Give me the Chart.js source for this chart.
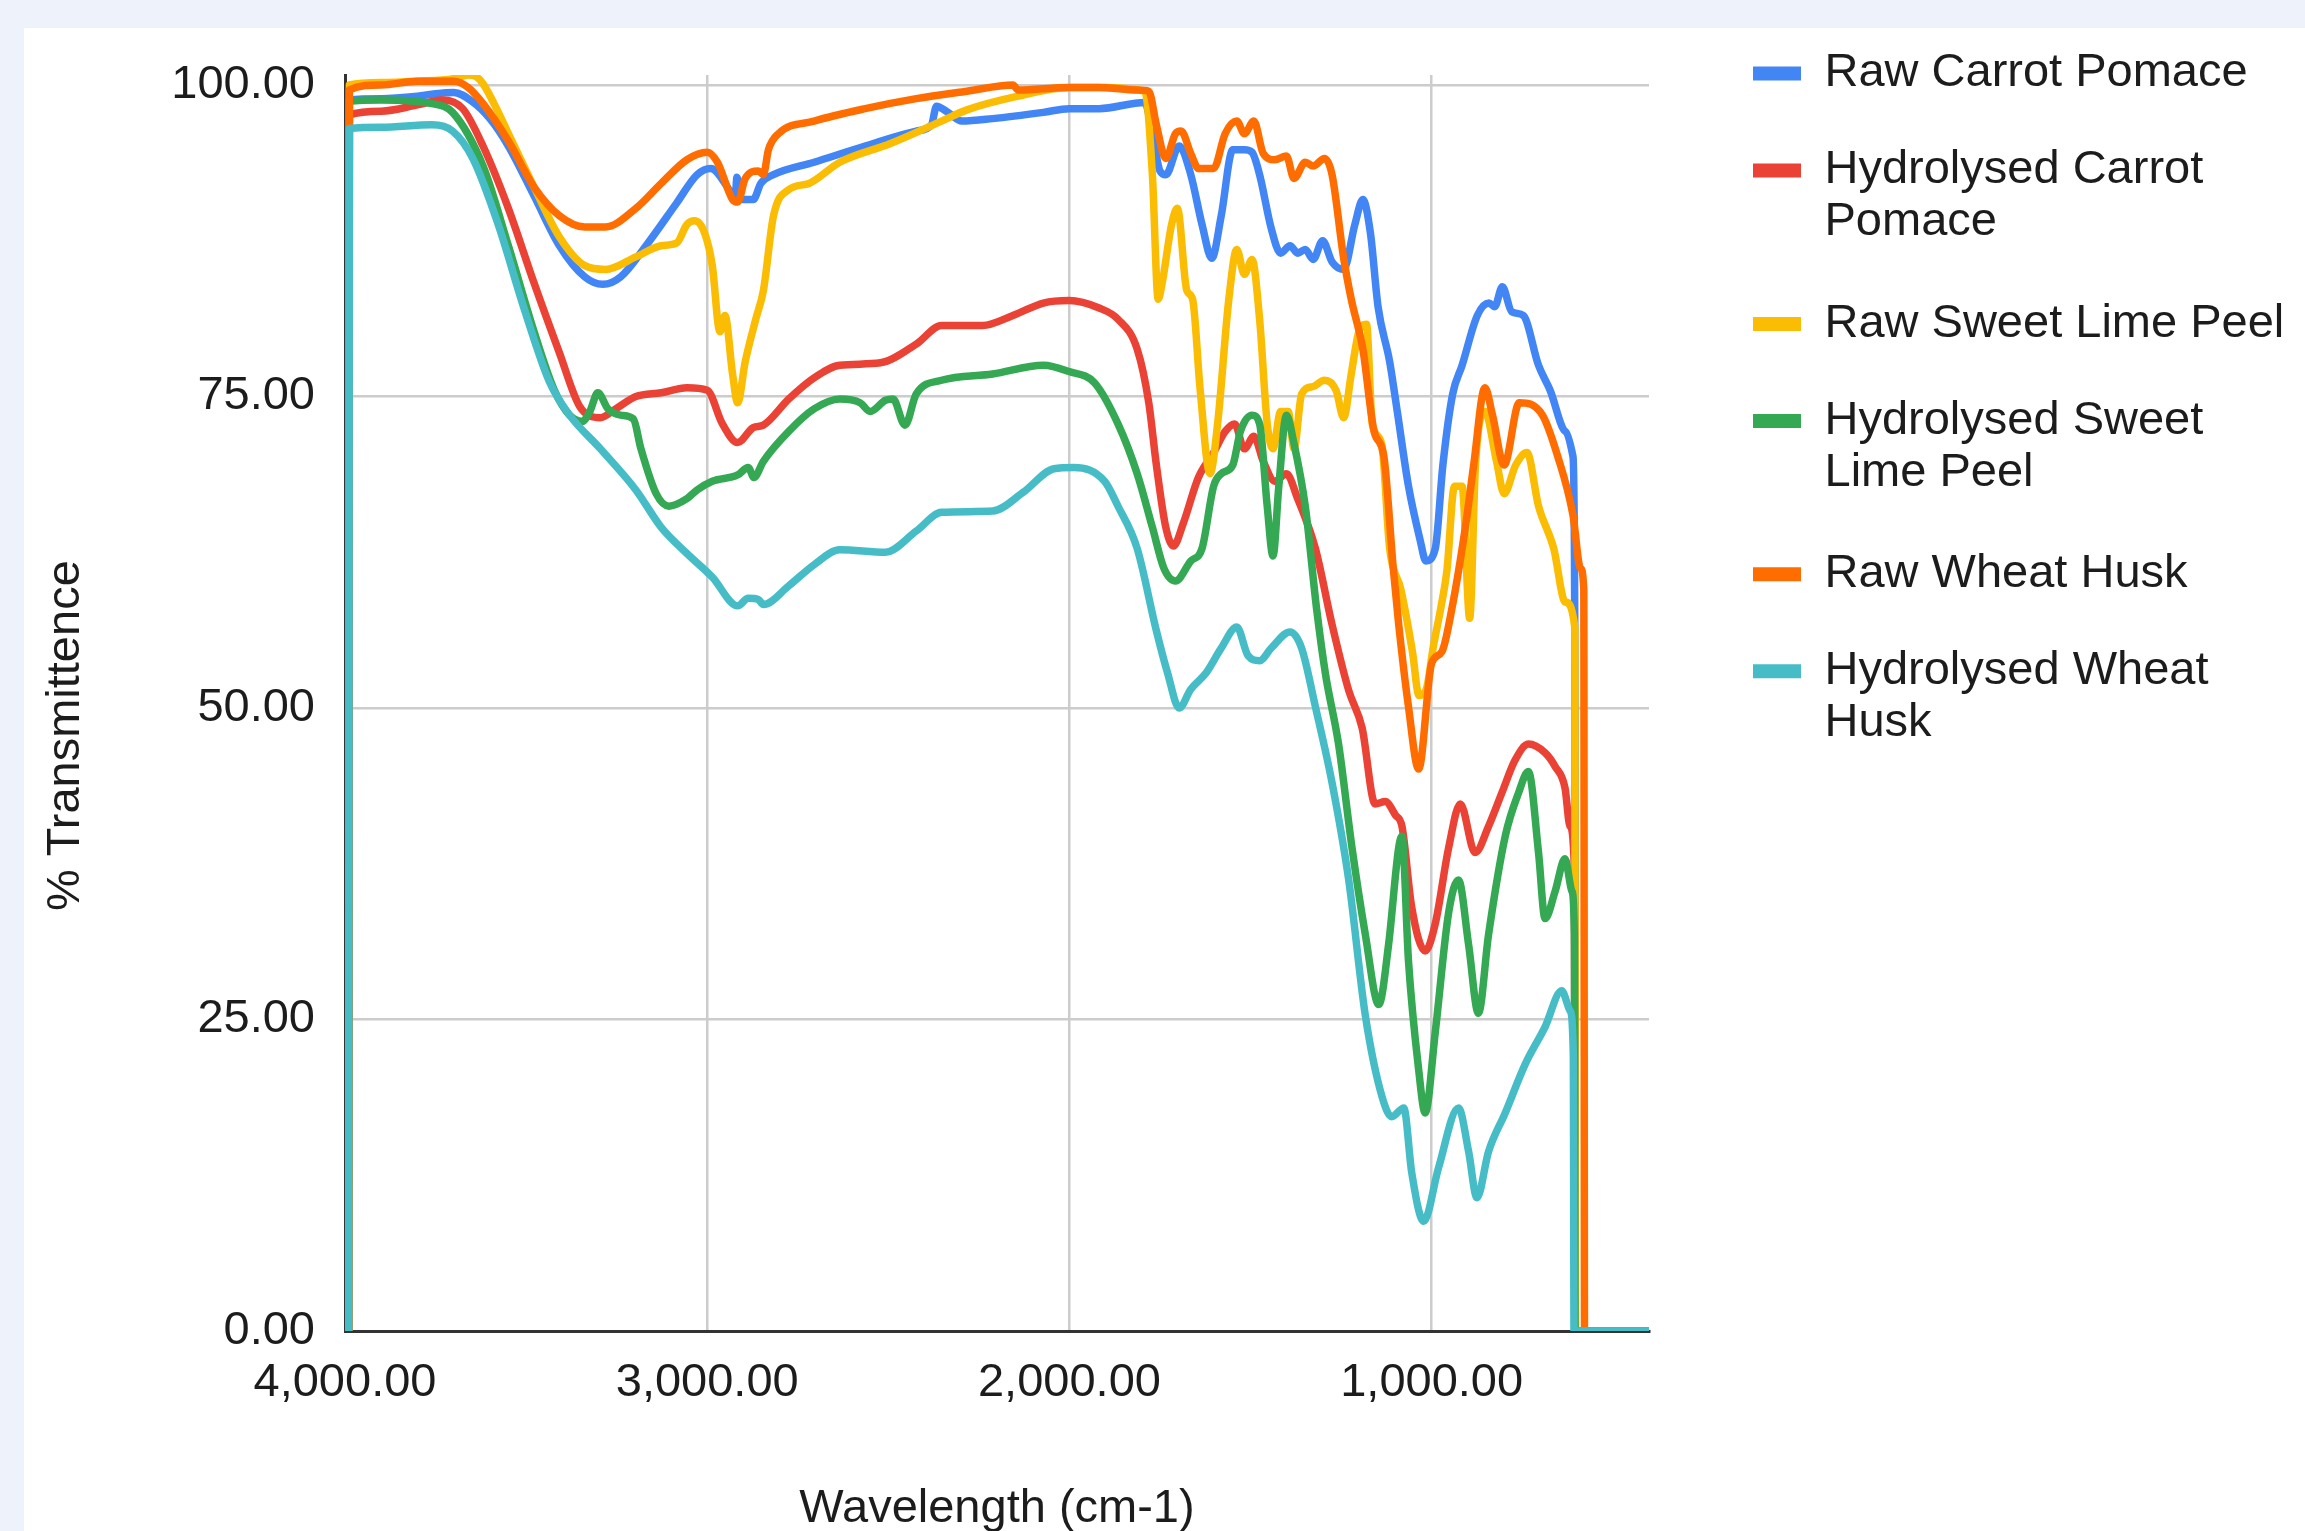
<!DOCTYPE html>
<html>
<head>
<meta charset="utf-8">
<script src="https://cdn.jsdelivr.net/npm/chart.js@4.4.1/dist/chart.umd.min.js"></script>
<style>
  html, body { margin: 0; padding: 0; width: 2305px; height: 1531px; overflow: hidden; background: #eef3fb; }
  #card { position: absolute; left: 24px; top: 28px; right: 0; bottom: 0; background: #ffffff; }
  #wrap { position: absolute; left: 0; top: 0; width: 2305px; height: 1531px; overflow: hidden; }
  #wrap canvas { position: absolute; left: 0; top: 0; }
</style>
</head>
<body>
<div id="card"></div>
<div id="wrap"><canvas id="chart" width="2305" height="1560"></canvas></div>
<script>
// ---------------- DATA ----------------
const SERIES_NAMES = [
  'Raw Carrot Pomace',
  'Hydrolysed Carrot Pomace',
  'Raw Sweet Lime Peel',
  'Hydrolysed Sweet Lime Peel',
  'Raw Wheat Husk',
  'Hydrolysed Wheat Husk'
];
const LEGEND_LINES = [
  'Raw Carrot Pomace',
  ['Hydrolysed Carrot', 'Pomace'],
  'Raw Sweet Lime Peel',
  ['Hydrolysed Sweet', 'Lime Peel'],
  'Raw Wheat Husk',
  ['Hydrolysed Wheat', 'Husk']
];
const SERIES_COLORS = ['#4285F4', '#EA4335', '#FBBC04', '#34A853', '#FF6D01', '#46BDC6'];

const X_TICKS = [4000, 3000, 2000, 1000];
const Y_TICKS = [0, 25, 50, 75, 100];
const X_MIN = 400, X_MAX = 4000;
const Y_MIN = 0, Y_MAX = 100.8;

const RAW_CARROT_WN = [3990,3988,3900,3800,3750,3700,3650,3600,3549,3478,3408,3338,3288,3239,3169,3085,3028,2990,2944,2923,2918,2905,2873,2852,2817,2705,2564,2423,2381,2367,2340,2297,2212,2072,2001,1918,1792,1771,1750,1734,1697,1665,1634,1607,1581,1549,1517,1496,1475,1443,1417,1391,1370,1349,1327,1301,1275,1243,1212,1190,1169,1148,1116,1095,1064,1032,1016,990,969,942,916,874,842,826,805,779,747,705,673,631,610,605,603,400];
const RAW_CARROT_T  = [0,98.8,98.9,99.1,99.3,99.4,98.7,97.3,95.1,91.1,87.1,84.6,84.0,84.6,87.1,90.5,92.8,93.3,91.8,90.8,92.6,90.8,90.8,92.1,92.8,93.8,95.1,96.3,96.8,98.3,97.9,97.1,97.3,97.8,98.1,98.1,98.6,96.1,93.1,92.8,95.1,92.8,88.8,86.1,89.5,94.8,94.8,94.6,92.8,88.5,86.5,87.1,86.5,86.8,86.0,87.5,85.8,85.2,88.8,90.8,88.1,82.2,77.8,73.8,67.8,63.5,61.8,62.8,69.5,75.2,77.5,81.5,82.5,82.2,83.8,81.8,81.5,77.5,75.5,72.2,70.2,56.8,0,0];

const HYD_CARROT_WN = [3990,3988,3900,3800,3732,3675,3619,3549,3478,3408,3352,3295,3253,3197,3127,3056,3000,2958,2916,2873,2845,2775,2705,2634,2522,2423,2353,2240,2156,2072,2001,1918,1866,1813,1781,1760,1734,1713,1686,1644,1602,1570,1544,1517,1491,1465,1433,1401,1370,1321,1275,1229,1192,1156,1128,1100,1082,1055,1018,990,953,921,880,843,806,770,733,687,659,632,618,606,604,400];
const HYD_CARROT_T  = [0,97.6,97.9,98.4,98.8,98.1,95.1,90.1,84.1,78.5,74.2,73.3,74.0,75.0,75.3,75.7,75.5,72.8,71.3,72.5,72.7,74.8,76.5,77.5,77.7,79.2,80.7,80.7,81.5,82.5,82.7,82.1,81.2,78.8,74.5,69.5,64.5,63.0,64.8,68.5,70.5,72.2,72.8,70.8,71.8,69.8,68.2,68.8,66.8,62.8,56.7,51.4,48.4,42.3,42.5,41.4,40.5,34.0,30.5,32.7,38.8,42.3,38.4,40.5,43.2,45.8,47.1,46.4,45.3,43.6,40.5,37.1,0,0];

const RAW_LIME_WN = [3990,3988,3900,3800,3700,3660,3640,3619,3580,3549,3478,3408,3338,3281,3197,3127,3085,3056,3035,3007,2986,2965,2951,2930,2916,2895,2866,2845,2817,2775,2719,2634,2494,2353,2283,2142,2001,1918,1792,1771,1755,1744,1718,1702,1676,1660,1639,1612,1591,1560,1538,1517,1496,1475,1454,1438,1417,1396,1380,1359,1327,1296,1264,1243,1222,1201,1180,1164,1138,1116,1085,1053,1035,1015,995,975,958,937,916,895,879,853,821,800,768,737,705,663,631,605,603,400];
const RAW_LIME_T  = [0,100.0,100.2,100.3,100.5,100.8,100.7,100.1,98.0,96.1,91.8,87.8,85.5,85.2,86.2,87.1,87.3,88.8,89.1,88.1,85.5,80.2,81.5,76.8,74.5,77.8,81.2,83.5,89.5,91.6,92.1,93.8,95.3,97.1,98.0,99.1,99.8,99.8,99.5,92.8,82.8,84.1,88.8,90.1,83.5,82.8,75.5,68.8,72.8,82.8,86.8,84.8,86.0,81.2,72.8,70.8,73.8,73.8,70.8,75.2,75.8,76.3,75.5,73.3,76.8,80.2,80.8,72.8,71.2,62.8,59.5,54.5,51.0,51.5,55.0,58.0,61.0,67.8,67.8,57.2,69.5,73.8,69.8,67.2,69.5,70.5,66.2,62.8,58.5,56.5,0,0];

const HYD_LIME_WN = [3990,3988,3900,3760,3703,3619,3549,3478,3422,3380,3345,3324,3302,3274,3239,3204,3183,3141,3106,3056,3028,2986,2916,2887,2871,2845,2775,2705,2634,2578,2550,2508,2487,2454,2423,2353,2212,2072,2001,1931,1866,1813,1771,1739,1707,1665,1634,1602,1581,1549,1528,1496,1475,1454,1438,1422,1401,1380,1349,1317,1293,1257,1220,1183,1146,1119,1091,1082,1064,1036,1018,990,953,926,898,871,843,797,760,733,705,687,659,632,613,606,604,400];
const HYD_LIME_T  = [0,98.7,98.8,98.5,97.8,93.5,87.1,80.2,75.5,73.5,73.0,73.8,75.3,74.0,73.5,73.2,70.8,67.2,66.2,66.8,67.5,68.2,68.7,69.3,68.5,69.8,72.2,74.0,74.8,74.5,73.8,74.7,74.8,72.7,75.2,76.3,76.8,77.5,77.0,76.1,72.8,68.8,64.5,61.2,60.2,61.8,62.8,67.8,68.8,69.5,72.2,73.5,72.8,66.2,62.2,67.8,73.5,71.2,66.2,57.8,52.7,47.1,38.8,31.8,26.2,31.0,38.8,39.7,29.7,21.0,17.5,24.0,33.6,36.2,31.0,25.5,31.8,39.7,43.2,44.9,38.4,33.1,35.3,37.9,35.3,31.8,0,0];

const RAW_WHEAT_WN = [3990,3988,3900,3800,3700,3660,3619,3549,3478,3408,3338,3281,3197,3127,3056,3000,2972,2930,2916,2895,2859,2845,2831,2803,2705,2564,2423,2283,2156,2142,2001,1918,1813,1781,1760,1734,1707,1692,1665,1644,1602,1570,1538,1517,1491,1465,1433,1401,1380,1349,1327,1296,1275,1243,1222,1190,1159,1132,1106,1091,1064,1036,1000,972,944,907,884,853,832,800,758,694,652,610,589,580,578,400];
const RAW_WHEAT_T  = [0,99.6,100.0,100.3,100.3,99.8,98.5,95.5,91.8,89.5,88.6,88.6,90.1,92.1,94.0,94.6,93.8,90.8,90.6,92.5,93.1,92.8,94.8,96.1,97.1,98.1,98.9,99.5,100.0,99.6,99.8,99.8,99.6,99.5,96.8,94.1,96.1,96.3,94.5,93.3,93.3,96.1,97.1,96.1,97.1,94.5,94.0,94.3,92.5,93.8,93.5,94.1,92.8,86.1,82.8,78.8,72.2,70.2,61.2,56.7,50.1,45.1,53.6,54.5,58.0,64.5,69.5,75.7,73.5,69.5,74.5,73.5,70.2,65.5,61.2,59.5,0,0];

const HYD_WHEAT_WN = [3990,3988,3900,3760,3703,3647,3577,3506,3436,3380,3295,3197,3127,3056,2986,2916,2887,2859,2845,2775,2705,2634,2508,2423,2353,2212,2128,2043,1987,1903,1866,1813,1760,1729,1697,1665,1623,1581,1538,1507,1475,1443,1391,1359,1321,1275,1229,1183,1137,1110,1077,1055,1022,981,926,898,875,843,797,742,687,641,618,609,607,400];
const HYD_WHEAT_T  = [0,96.5,96.6,96.8,96.3,94.1,88.8,82.1,76.2,73.5,70.8,67.5,64.5,62.4,60.5,58.2,58.8,58.7,58.3,59.8,61.5,62.7,62.5,64.2,65.7,65.8,67.3,69.2,69.3,68.2,66.2,62.8,56.2,52.8,50.0,51.5,52.8,54.8,56.5,54.2,53.8,54.8,56.1,54.8,50.1,44.0,36.2,25.3,18.8,17.2,17.9,12.7,8.8,13.1,17.9,14.4,10.7,14.4,17.5,21.4,24.4,27.3,25.7,22.3,0,0];

const SERIES_WN = [RAW_CARROT_WN, HYD_CARROT_WN, RAW_LIME_WN, HYD_LIME_WN, RAW_WHEAT_WN, HYD_WHEAT_WN];
const SERIES_T  = [RAW_CARROT_T,  HYD_CARROT_T,  RAW_LIME_T,  HYD_LIME_T,  RAW_WHEAT_T,  HYD_WHEAT_T];

// ---------------- LAYOUT / STYLE ----------------
const FONT_FAMILY = '"Liberation Sans", Arial, Helvetica, sans-serif';
const FONT_SIZE = 47;
const TEXT_COLOR = '#1c1c1c';
const Y_AXIS_WIDTH = 345;
const X_AXIS_HEIGHT = 229;
const LEGEND_WIDTH = 656;
const LEGEND_LEFT = 1703;

Chart.defaults.font.family = FONT_FAMILY;
Chart.defaults.font.size = FONT_SIZE;
Chart.defaults.color = TEXT_COLOR;

const fmt = v => Number(v).toLocaleString('en-US', {minimumFractionDigits: 2, maximumFractionDigits: 2});

const legendPlacement = {
  id: 'legendPlacement',
  beforeLayout(chart) {
    const lg = chart.legend;
    if (lg && !lg.__fixedFit) {
      const origFit = lg.fit;
      lg.fit = function () { origFit.call(this); this.width = LEGEND_WIDTH; };
      lg.__fixedFit = true;
    }
  },
  afterLayout(chart) {
    const lg = chart.legend;
    if (!lg) return;
    lg.left = LEGEND_LEFT;
    lg.right = chart.width;
    lg.width = lg.right - lg.left;
    lg.top = 0;
    lg.bottom = chart.height;
    lg.height = chart.height;
  }
};

const datasets = SERIES_NAMES.map((name, i) => ({
  label: name,
  data: SERIES_WN[i].map((w, k) => ({x: w, y: SERIES_T[i][k]})),
  borderColor: SERIES_COLORS[i],
  backgroundColor: SERIES_COLORS[i],
  borderWidth: 7.5,
  pointRadius: 0,
  pointHoverRadius: 0,
  fill: false,
  cubicInterpolationMode: 'monotone',
  borderJoinStyle: 'round',
  borderCapStyle: 'round',
  order: SERIES_NAMES.length - 1 - i
}));

new Chart(document.getElementById('chart'), {
  type: 'line',
  data: {datasets},
  plugins: [legendPlacement],
  options: {
    responsive: false,
    animation: false,
    devicePixelRatio: 1,
    events: [],
    layout: {padding: {top: 75, left: 0, right: 0, bottom: 0}},
    plugins: {
      tooltip: {enabled: false},
      legend: {
        position: 'right',
        align: 'start',
        labels: {
          font: {size: FONT_SIZE, lineHeight: 1.1},
          color: TEXT_COLOR,
          boxWidth: 48,
          boxHeight: 14,
          padding: 50,
          generateLabels(chart) {
            const items = Chart.defaults.plugins.legend.labels.generateLabels(chart);
            items.sort((a, b) => a.datasetIndex - b.datasetIndex);
            items.forEach(it => {
              it.text = LEGEND_LINES[it.datasetIndex];
              it.fillStyle = SERIES_COLORS[it.datasetIndex];
              it.strokeStyle = SERIES_COLORS[it.datasetIndex];
              it.lineWidth = 0;
            });
            return items;
          }
        }
      }
    },
    scales: {
      x: {
        type: 'linear',
        reverse: true,
        min: X_MIN,
        max: X_MAX,
        afterBuildTicks(scale) { scale.ticks = X_TICKS.map(v => ({value: v})); },
        afterFit(scale) { scale.height = X_AXIS_HEIGHT; scale.paddingLeft = 0; scale.paddingRight = 0; },
        grid: {color: '#cccccc', lineWidth: 2.5, drawTicks: false, z: -1},
        border: {color: '#333333', width: 3},
        ticks: {font: {size: FONT_SIZE}, color: TEXT_COLOR, padding: 24, autoSkip: false, maxRotation: 0, callback: v => fmt(v)},
        title: {display: true, text: 'Wavelength (cm-1)', font: {size: FONT_SIZE}, color: TEXT_COLOR, padding: {top: 0, bottom: 23}}
      },
      y: {
        type: 'linear',
        min: Y_MIN,
        max: Y_MAX,
        afterBuildTicks(scale) { scale.ticks = Y_TICKS.map(v => ({value: v})); },
        afterFit(scale) { scale.width = Y_AXIS_WIDTH; scale.paddingTop = 0; scale.paddingBottom = 0; },
        grid: {color: '#cccccc', lineWidth: 2.5, drawTicks: false, z: -1},
        border: {color: '#333333', width: 3},
        ticks: {font: {size: FONT_SIZE}, color: TEXT_COLOR, padding: 30, callback: v => fmt(v)},
        title: {display: true, text: '% Transmittence     ', font: {size: FONT_SIZE}, color: TEXT_COLOR, padding: {top: 38, bottom: 0}}
      }
    }
  }
});
</script>
</body>
</html>
